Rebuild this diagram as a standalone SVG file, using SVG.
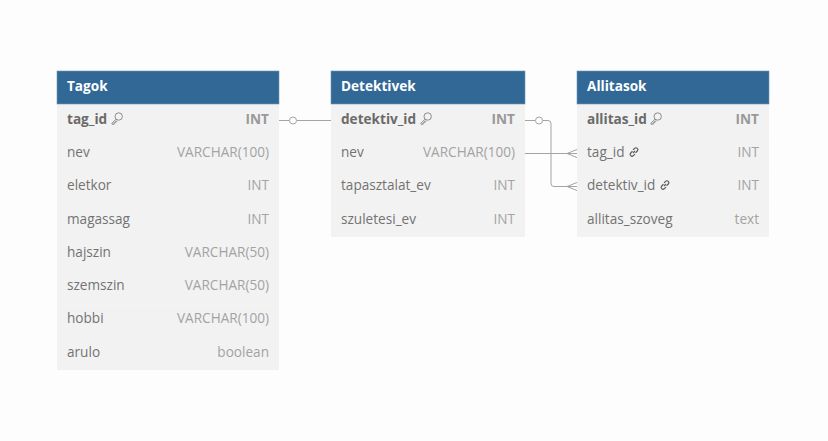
<svg xmlns="http://www.w3.org/2000/svg" width="828" height="441" viewBox="0 0 828 441">
<defs>
<style>
text{font-family:"Open Sans","Noto Sans",sans-serif;font-size:13.6px}
.h{fill:#316896;stroke:#6b97bb;stroke-width:.6}
.hd{fill:#fff;font-weight:700}
.b{fill:#f2f2f2}
.sep{stroke:#f4f4f4;stroke-width:1}
.n{fill:#727272}
.k{fill:#6a6a6a;font-weight:700}
.t{fill:#a3a3a3;text-anchor:end}
.tk{fill:#999;font-weight:700;text-anchor:end}
.c{fill:none;stroke:#a3a3a8;stroke-width:1}
.ic{fill:none;stroke:#808080;stroke-width:.9}
.fk{fill:none;stroke:#5c5c5c;stroke-width:1.2}
</style>
<g id="key"><circle cx="1.700" cy="-2" r="3.700" class="ic"/><path class="ic" d="M-1 .7L-5 4.700V5.700H-2.800V4.200H-1.300V2.700H.4"/></g>
<g id="lnk"><path class="fk" d="M-1 1L1-1M-1.500-.8L-3.300 1A1.900 1.900 0 0 0-.6 3.700L1 2.100M-1-2.100L.6-3.700A1.900 1.900 0 0 1 3.300-1L1.500 .8"/></g>
</defs>
<rect width="828" height="441" fill="#fdfdfd"/>
<g id="connectors">
<path class="c" d="M279 120.500H289M297 120.500H331"/>
<circle class="c" cx="293" cy="120.500" r="3.500"/>
<path class="c" d="M525 120.500H535M543 120.500H548Q551 120.500 551 123.500V183.500Q551 186.500 554 186.500H577"/>
<circle class="c" cx="539" cy="120.500" r="3.500"/>
<path class="c" d="M525 153.500H577M567 153.500L577 149.500M567 153.500L577 157.500"/>
<path class="c" d="M567 186.500L577 182.500M567 186.500L577 190.500"/>
</g>
<g id="tagok">
<rect class="b" x="57" y="104" width="222" height="266"/>
<rect class="h" x="57" y="71" width="222" height="33"/>
<text class="hd" x="67" y="91">Tagok</text>
<path class="sep" d="M57 137.500H279M57 170.500H279M57 204.500H279M57 237.500H279M57 270.500H279M57 304.500H279M57 337.500H279"/>
<text class="k" x="67" y="124">tag_id</text><use href="#key" x="117" y="118.500"/><text class="tk" x="269" y="124">INT</text>
<text class="n" x="67" y="157">nev</text><text class="t" x="269" y="157">VARCHAR(100)</text>
<text class="n" x="67" y="190">eletkor</text><text class="t" x="269" y="190">INT</text>
<text class="n" x="67" y="224">magassag</text><text class="t" x="269" y="224">INT</text>
<text class="n" x="67" y="257">hajszin</text><text class="t" x="269" y="257">VARCHAR(50)</text>
<text class="n" x="67" y="290">szemszin</text><text class="t" x="269" y="290">VARCHAR(50)</text>
<text class="n" x="67" y="323">hobbi</text><text class="t" x="269" y="323">VARCHAR(100)</text>
<text class="n" x="67" y="357">arulo</text><text class="t" x="269" y="357">boolean</text>
</g>
<g id="detektivek">
<rect class="b" x="331" y="104" width="194" height="133"/>
<rect class="h" x="331" y="71" width="194" height="33"/>
<text class="hd" x="341" y="91">Detektivek</text>
<path class="sep" d="M331 137.500H525M331 170.500H525M331 204.500H525"/>
<text class="k" x="341" y="124">detektiv_id</text><use href="#key" x="426" y="118.500"/><text class="tk" x="515" y="124">INT</text>
<text class="n" x="341" y="157">nev</text><text class="t" x="515" y="157">VARCHAR(100)</text>
<text class="n" x="341" y="190">tapasztalat_ev</text><text class="t" x="515" y="190">INT</text>
<text class="n" x="341" y="224">szuletesi_ev</text><text class="t" x="515" y="224">INT</text>
</g>
<g id="allitasok">
<rect class="b" x="577" y="104" width="192" height="133"/>
<rect class="h" x="577" y="71" width="192" height="33"/>
<text class="hd" x="587" y="91">Allitasok</text>
<path class="sep" d="M577 137.500H769M577 170.500H769M577 204.500H769"/>
<text class="k" x="587" y="124">allitas_id</text><use href="#key" x="656" y="118.500"/><text class="tk" x="759" y="124">INT</text>
<text class="n" x="587" y="157">tag_id</text><use href="#lnk" x="634" y="152"/><text class="t" x="759" y="157">INT</text>
<text class="n" x="587" y="190">detektiv_id</text><use href="#lnk" x="665" y="185"/><text class="t" x="759" y="190">INT</text>
<text class="n" x="587" y="224">allitas_szoveg</text><text class="t" x="759" y="224">text</text>
</g>
</svg>
